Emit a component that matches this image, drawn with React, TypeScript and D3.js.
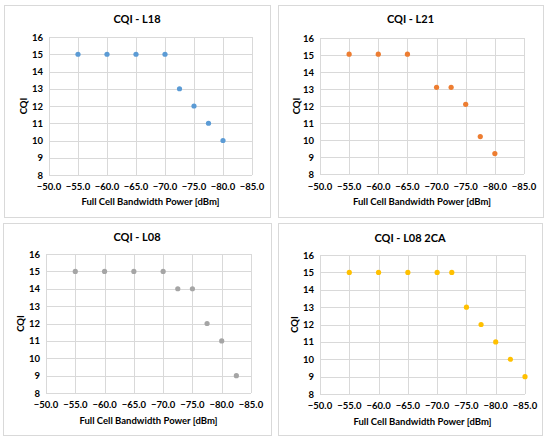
import React from 'react';
import * as d3 from 'd3';

const xTicks = [-50, -55, -60, -65, -70, -75, -80, -85];
const yTicks = [8, 9, 10, 11, 12, 13, 14, 15, 16];

const titles = ['CQI - L18', 'CQI - L21', 'CQI - L08', 'CQI - L08 2CA'];
const colors = ['#5B9BD5', '#ED7D31', '#A5A5A5', '#FFC000'];

const powerL18 = [-55, -60, -65, -70, -72.5, -75, -77.5, -80];
const cqiL18 = [15, 15, 15, 15, 13, 12, 11, 10];

const powerL21 = [-55, -60, -65, -70, -72.5, -75, -77.5, -80];
const cqiL21 = [15.05, 15.05, 15.05, 13.1, 13.1, 12.1, 10.2, 9.2];

const powerL08 = [-55, -60, -65, -70, -72.5, -75, -77.5, -80, -82.5];
const cqiL08 = [15, 15, 15, 15, 14, 14, 12, 11, 9];

const powerL08ca = [-55, -60, -65, -70, -72.5, -75, -77.5, -80, -82.5, -85];
const cqiL08ca = [15, 15, 15, 15, 15, 13, 12, 11, 10, 9];

const seriesX = [powerL18, powerL21, powerL08, powerL08ca];
const seriesY = [cqiL18, cqiL21, cqiL08, cqiL08ca];

// panel boxes and plot areas (pixels)
const layouts = [
  { box: [4, 5, 270, 217], plot: [49, 37, 252, 175], titleY: 23, tickY: 190, xTitleY: 205, yTitleX: 24 },
  { box: [278, 5, 543, 217], plot: [320, 38, 524, 174], titleY: 23, tickY: 190, xTitleY: 205, yTitleX: 297 },
  { box: [3, 223, 271, 435], plot: [46, 254, 251, 393], titleY: 241, tickY: 408, xTitleY: 424, yTitleX: 21 },
  { box: [278, 223, 542, 435], plot: [320, 255, 525, 394], titleY: 242, tickY: 409, xTitleY: 425, yTitleX: 295 },
];

const font = 'Lato, "Open Sans", sans-serif';
const grid = '#D9D9D9';

function Panel({ i }: { i: number }) {
  const L = layouts[i];
  const [bx0, by0, bx1, by1] = L.box;
  const [px0, py0, px1, py1] = L.plot;
  const x = d3.scaleLinear().domain([-50, -85]).range([px0, px1]);
  const y = d3.scaleLinear().domain([8, 16]).range([py1, py0]);
  const xs = seriesX[i];
  const ys = seriesY[i];
  const cx = (bx0 + bx1) / 2;
  return (
    <g>
      <rect x={bx0 + 0.5} y={by0 + 0.5} width={bx1 - bx0} height={by1 - by0} fill="#fff" stroke={grid} />
      <text x={cx} y={L.titleY} textAnchor="middle" fontSize={11} fontWeight={700} fill="#000">{titles[i]}</text>
      {yTicks.map(t => (
        <line key={'h' + t} x1={px0} x2={px1} y1={Math.round(y(t)) + 0.5} y2={Math.round(y(t)) + 0.5} stroke={grid} />
      ))}
      {xTicks.map(t => (
        <line key={'v' + t} x1={Math.round(x(t)) + 0.5} x2={Math.round(x(t)) + 0.5} y1={py0} y2={py1} stroke={grid} />
      ))}
      {yTicks.map(t => (
        <text key={'yl' + t} x={px0 - 6} y={y(t) + 3.5} textAnchor="end" fontSize={9.5} fontWeight={700} fill="#000">{t}</text>
      ))}
      {xTicks.map(t => (
        <text key={'xl' + t} x={x(t)} y={L.tickY} textAnchor="middle" fontSize={9.5} fontWeight={700} fill="#000">
          {d3.format('.1f')(t)}
        </text>
      ))}
      <text x={(px0 + px1) / 2} y={L.xTitleY} textAnchor="middle" fontSize={9.5} fontWeight={700} fill="#000">
        Full Cell Bandwidth Power [dBm]
      </text>
      <text transform={`translate(${L.yTitleX},${(py0 + py1) / 2}) rotate(-90)`} textAnchor="middle" dy="0.35em" fontSize={9.5} fontWeight={700} fill="#000">
        CQI
      </text>
      {xs.map((v, k) => (
        <circle key={k} cx={x(v)} cy={y(ys[k])} r={2.6} fill={colors[i]} />
      ))}
    </g>
  );
}

export default function App() {
  return (
    <svg width={550} height={441} style={{ position: 'absolute', left: 0, top: 0, fontFamily: font }}>
      <rect width={550} height={441} fill="#fff" />
      {layouts.map((_, i) => <Panel key={i} i={i} />)}
    </svg>
  );
}
